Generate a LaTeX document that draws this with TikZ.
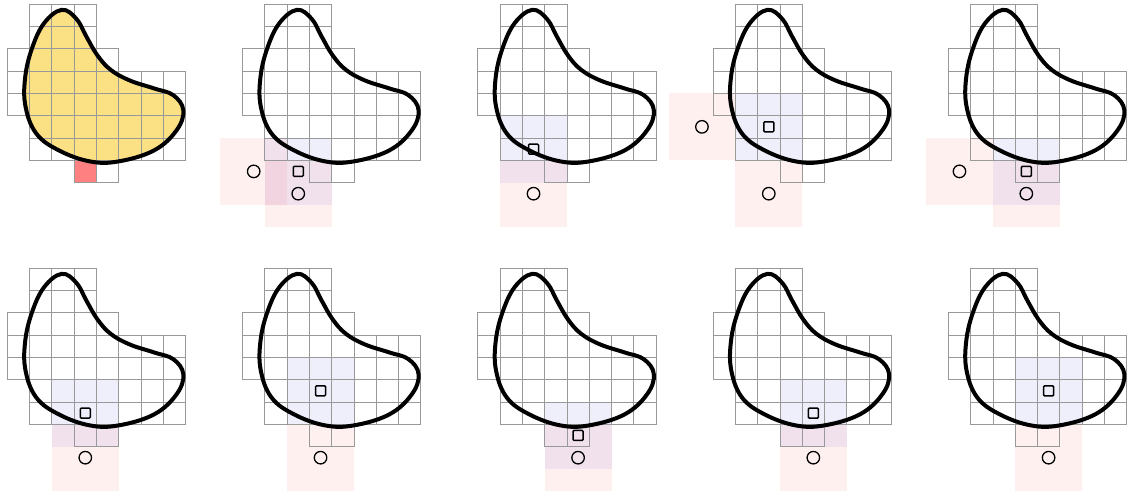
\documentclass[tikz,border=0pt]{standalone}
\usepackage{tikz}

\definecolor{blobfill}{RGB}{252,224,132}
\definecolor{seedred}{RGB}{255,128,128}
\definecolor{nearblue}{RGB}{120,120,230}

\tikzset{
  gridline/.style={draw=black!40, line width=0.8pt},
  blobline/.style={draw=black, line width=4pt},
  nearzone/.style={fill=nearblue, fill opacity=0.12},
  farzone/.style={fill=red, fill opacity=0.06},
  sqmark/.style={draw, line width=1.5pt, rounded corners=1pt, minimum size=10pt, inner sep=0pt},
  cmark/.style={draw, circle, line width=1.3pt, minimum size=12.5pt, inner sep=0pt}
}

\newcommand{\cellgrid}{%
  \foreach \r/\a/\b in {0/1/3, 1/1/3, 2/0/4, 3/0/7, 4/0/7, 5/1/7, 6/1/7, 7/3/4}
    \foreach \c in {\a,...,\b}
      \draw[gridline] (\c,\r) rectangle ++(1,1);
}
\newcommand{\drawblob}[1]{%
  \path[#1] plot[smooth cycle, tension=0.65] coordinates {
    (2.44,0.25) (3.1,0.65) (3.55,1.45) (4.05,2.3) (4.65,2.95)
    (5.5,3.42) (6.6,3.78) (7.45,4.08) (7.9,4.75) (7.6,5.65)
    (6.6,6.55) (5.0,7.05) (3.7,7.05) (2.3,6.55) (1.3,5.8)
    (0.82,4.6) (0.8,3.3) (1.1,2.0) (1.65,0.85)};
}

\begin{document}
\begin{tikzpicture}[x=22.28pt, y=-22.28pt]
  \useasboundingbox (-0.328,-0.193) rectangle (50.48,21.98);
  \drawblob{fill=blobfill}
  \fill[seedred] (3,7) rectangle (4,8);
  \cellgrid
  \drawblob{blobline}
  \foreach \px/\py/\sx/\sy/\cl in {1/0/2/7/{0/7,2/8}, 2/0/2/6/{2/8}, 3/0/2/5/{-1/5,2/8},
      4/0/3/7/{0/7,3/8}, 0/1/3/6/{3/8}, 1/1/3/5/{3/8}, 2/1/4/7/{4/8}, 3/1/4/6/{4/8}, 4/1/4/5/{4/8}} {
    \begin{scope}[shift={({\px*10.559},{\py*11.849})}]
      \fill[nearzone] (\sx-1,\sy-1) rectangle (\sx+2,\sy+2);
      \foreach \cx/\cy in \cl
        \fill[farzone] (\cx-1,\cy-1) rectangle (\cx+2,\cy+2);
      \cellgrid
      \drawblob{blobline}
      \node[sqmark] (sq-\px-\py) at (\sx+0.5,\sy+0.5) {};
      \foreach \cx/\cy in \cl
        \node[cmark] (ci-\px-\py-\cx-\cy) at (\cx+0.5,\cy+0.5) {};
    \end{scope}
  }
\end{tikzpicture}
\end{document}
